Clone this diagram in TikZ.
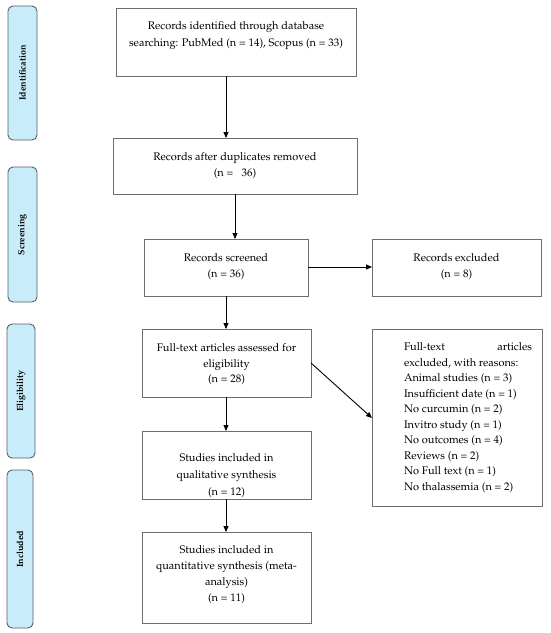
\documentclass[tikz,border=0pt]{standalone}
\usepackage[T1]{fontenc}
\usepackage{mathpazo}
\usetikzlibrary{arrows.meta}
\definecolor{lblfill}{HTML}{C8ECFA}
\definecolor{lbldraw}{HTML}{55606A}
\definecolor{boxdraw}{HTML}{6E6E6E}
\newcommand{\bxt}[4]{\parbox[c][#2pt][t]{#1pt}{\vspace*{#3pt}\centering #4\par}}
\begin{document}
\begin{tikzpicture}[x=1pt,y=-1pt,
  box/.style={draw=boxdraw,line width=0.9pt,inner sep=0pt,outer sep=0pt,
    font=\fontsize{11}{15.5}\selectfont},
  lbl/.style={draw=lbldraw,fill=lblfill,line width=0.9pt,rounded corners=5pt,
    inner sep=0pt,outer sep=0pt},
  lbltext/.style={rotate=90,font=\bfseries\fontsize{9}{12}\selectfont},
  arr/.style={line width=0.9pt,-{Triangle[length=6pt,width=5pt]}}]
\useasboundingbox (0,0) rectangle (550,633);
\fill[white] (0,0) rectangle (550,633);
% stage labels
\node[lbl,minimum width=29pt,minimum height=134pt] (lid) at (22.5,73) {};
\node[lbltext] (tid) at (lid.center) {Identification};
\node[lbl,minimum width=29pt,minimum height=135pt] (lsc) at (22.5,234.5) {};
\node[lbltext] (tsc) at (lsc.center) {Screening};
\node[lbl,minimum width=28pt,minimum height=134pt] (lel) at (21,391) {};
\node[lbltext] (tel) at (lel.center) {Eligibility};
\node[lbl,minimum width=26pt,minimum height=158pt] (lin) at (20,549) {};
\node[lbltext] (tin) at (lin.center) {Included};
% boxes
\node[box,font=\fontsize{11}{17}\selectfont] (b1) at (236,42) {\bxt{240}{68}{14}{Records identified through database\\searching: PubMed (n = 14), Scopus (n = 33)}};
\node[box] (b2) at (235,166) {\bxt{244}{56}{15}{Records after duplicates removed\\(n =\ \ \ 36)}};
\node[box] (b3) at (226,267.5) {\bxt{164}{57}{15}{Records screened\\(n = 36)}};
\node[box] (bx) at (456.5,267.5) {\bxt{169}{57}{15}{Records excluded\\(n = 8)}};
\node[box] (b4) at (226.5,363) {\bxt{169}{68}{15}{Full-text articles assessed for\\eligibility\\(n = 28)}};
\node[box,font=\fontsize{11}{17}\selectfont] (b5) at (226.5,465) {\bxt{169}{68}{23}{Studies included in\\qualitative synthesis\\(n = 12)}};
\node[box,font=\fontsize{11}{15.8}\selectfont] (b6) at (226.5,577.5) {\bxt{169}{91}{14}{Studies included in\\quantitative synthesis (meta-\\analysis)\\(n = 11)}};
\node[box] (be) at (457,417.5) {\parbox[c][177pt][t]{170pt}{\vspace*{14pt}\hspace*{32pt}\parbox[t]{128pt}{\raggedright Full-text\hfill articles\\excluded, with reasons:\\Animal studies (n = 3)\\Insufficient date (n = 1)\\No curcumin (n = 2)\\Invitro study (n = 1)\\No outcomes (n = 4)\\Reviews (n = 2)\\No Full text (n = 1)\\No thalassemia (n = 2)}}};
% arrows
\draw[arr] (b1.south -| 226,0) -- (b2.north -| 226,0);
\draw[arr] (b2.south -| 235,0) -- (b3.north -| 235,0);
\draw[arr] (b3.east |- 0,267) -- (bx.west |- 0,267);
\draw[arr] (b3.south) -- (b4.north -| b3.south);
\draw[arr] (b4.south -| b3.south) -- (b5.north -| b3.south);
\draw[arr] (b5.south -| b3.south) -- (b6.north -| b3.south);
\draw[arr] (b4.east |- 0,363) -- (be.west |- 0,418);
\end{tikzpicture}
\end{document}
